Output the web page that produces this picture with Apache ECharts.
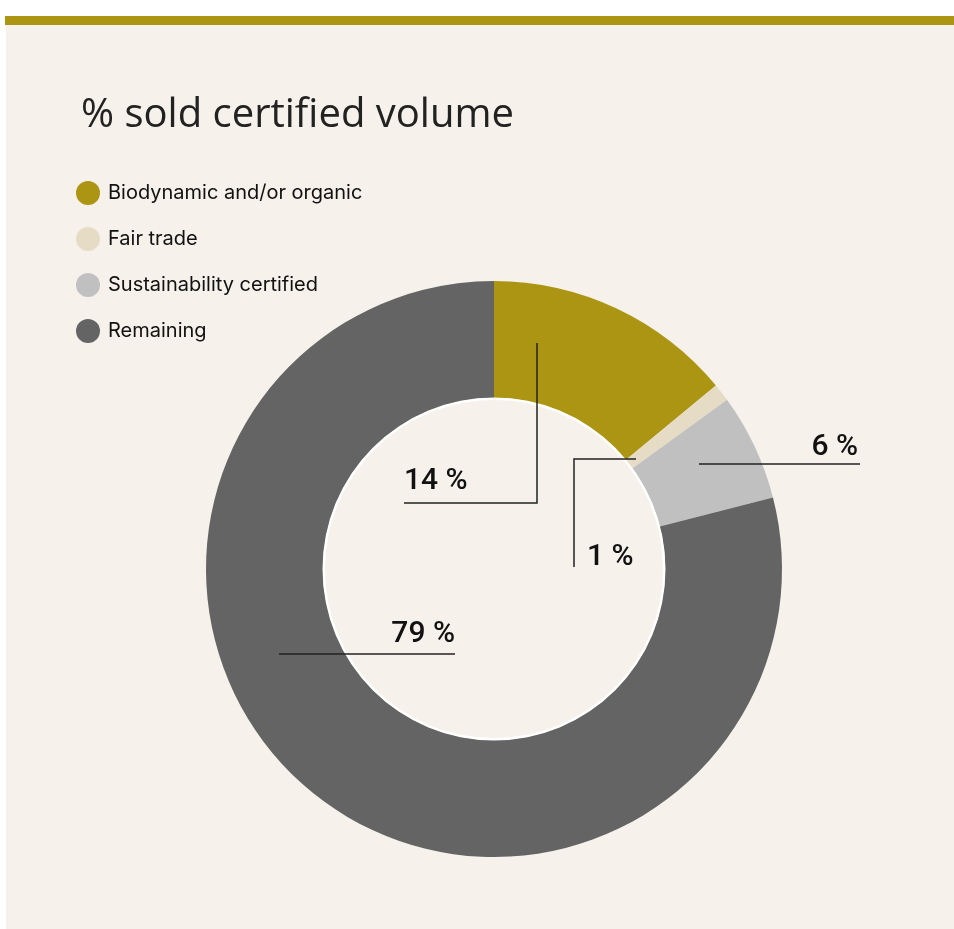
<!DOCTYPE html>
<html>
<head>
<meta charset="utf-8">
<script src="https://cdn.jsdelivr.net/npm/echarts@6/dist/echarts.min.js"></script>
<style>
  html, body { margin: 0; padding: 0; background: #ffffff; }
  #bar { position: absolute; left: 5px; top: 16px; width: 949px; height: 9px; background: #ad9514; }
  #main { position: absolute; left: 6px; top: 25px; width: 948px; height: 904px; background: #f6f1ea; }
</style>
</head>
<body>
<div id="bar"></div>
<div id="main"></div>
<script>
var categories = ['Biodynamic and/or organic', 'Fair trade', 'Sustainability certified', 'Remaining'];
var shares = [14, 1, 6, 79];
var colors = ['#ad9514', '#e6dcc5', '#c0c0c0', '#646464'];

// where each label and its leader line sit (container pixels)
var labelSpots = [
    { x: 398, y: 471, align: 'left', line: [[531, 318], [531, 478], [398, 478]] },
    { x: 581, y: 547, align: 'left', line: [[630, 434], [568, 434], [568, 542]] },
    { x: 852, y: 437, align: 'right', line: [[693, 439], [854, 439]] },
    { x: 449, y: 624, align: 'right', line: [[273, 629], [449, 629]] }
];

var chart = echarts.init(document.getElementById('main'));

var pieData = [];
for (var i = 0; i < categories.length; i++) {
    pieData.push({ name: categories[i], value: shares[i], itemStyle: { color: colors[i] } });
}
// same slices again, invisible, only to carry labels and lines above the ring
var labelData = [];
for (var j = 0; j < categories.length; j++) {
    labelData.push({ name: categories[j], value: shares[j], itemStyle: { color: 'rgba(0,0,0,0)' } });
}

chart.setOption({
    animation: false,
    title: {
        text: '% sold certified volume',
        left: 70,
        top: 66,
        textStyle: { fontFamily: 'Open Sans', fontSize: 40, fontWeight: 'normal', color: '#222222' }
    },
    legend: {
        orient: 'vertical',
        left: 65,
        top: 151,
        icon: 'circle',
        itemWidth: 24,
        itemHeight: 24,
        itemGap: 22,
        selectedMode: false,
        textStyle: { fontFamily: 'Inter', fontSize: 20, color: '#111111', padding: [0, 0, 0, 3] },
        data: categories
    },
    series: [{
        type: 'pie',
        center: [488, 544],
        radius: [171, 288],
        startAngle: 90,
        clockwise: true,
        silent: true,
        z: 1,
        data: pieData,
        label: { show: false },
        labelLine: { show: false }
    }, {
        type: 'pie',
        center: [488, 544],
        radius: [169, 171.5],
        silent: true,
        z: 2,
        legendHoverLink: false,
        label: { show: false },
        labelLine: { show: false },
        data: [{ name: 'ring', value: 1, itemStyle: { color: '#ffffff' } }]
    }, {
        type: 'pie',
        center: [488, 544],
        radius: [171, 288],
        startAngle: 90,
        clockwise: true,
        silent: true,
        z: 5,
        data: labelData,
        label: {
            show: true,
            position: 'outside',
            formatter: function (p) { return p.value + ' %'; },
            fontFamily: 'Roboto',
            fontSize: 30,
            fontWeight: 500,
            color: '#111111'
        },
        labelLine: { show: true, lineStyle: { color: '#222222', width: 1.5 } },
        labelLayout: function (params) {
            var s = labelSpots[params.dataIndex];
            return {
                x: s.x,
                y: s.y,
                align: s.align,
                verticalAlign: 'bottom',
                labelLinePoints: s.line
            };
        }
    }]
});
</script>
</body>
</html>
